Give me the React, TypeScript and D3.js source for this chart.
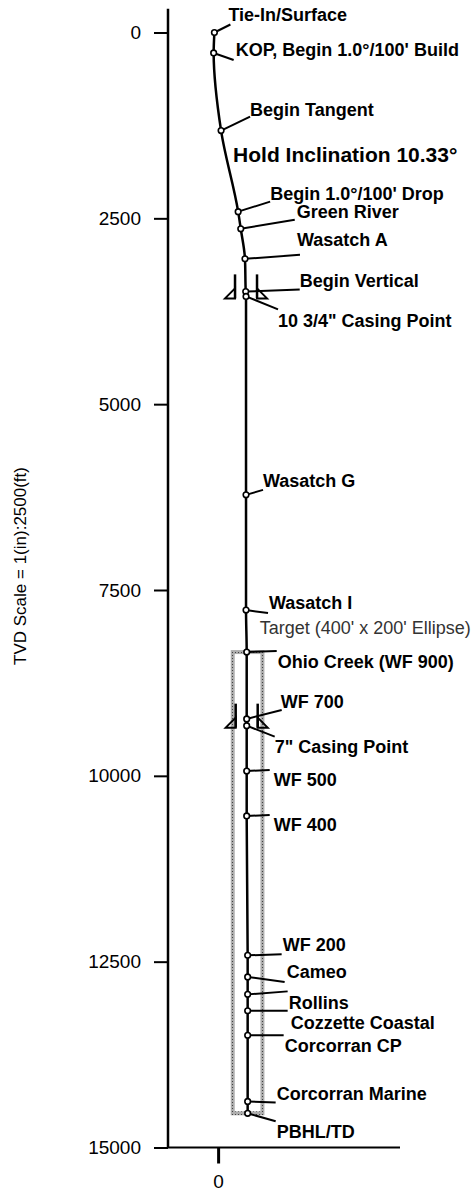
import React, { useEffect, useRef } from "react";
import * as d3 from "d3";

const WIDTH = 471;
const HEIGHT = 1191;
const FONT = "'Liberation Sans', Arial, Helvetica, sans-serif";

// well plan markers: TVD (ft) and vertical section (ft)
const markerNames = [
  "Tie-In/Surface",
  "KOP, Begin 1.0°/100' Build",
  "Begin Tangent",
  "Begin 1.0°/100' Drop",
  "Green River",
  "Wasatch A",
  "Begin Vertical",
  '10 3/4" Casing Point',
  "Wasatch G",
  "Wasatch I",
  "Ohio Creek (WF 900)",
  "WF 700",
  '7" Casing Point',
  "WF 500",
  "WF 400",
  "WF 200",
  "Cameo",
  "Rollins",
  "Cozzette Coastal",
  "Corcorran CP",
  "Corcorran Marine",
  "PBHL/TD",
];
const markerTVD = [
  0, 275, 1320, 2410, 2640, 3045, 3485, 3550, 6220, 7770, 8335, 9235, 9325,
  9935, 10540, 12415, 12705, 12940, 13160, 13490, 14380, 14540,
];
const markerVS = [
  -50, -60, 40, 270, 305, 362, 372, 376, 376, 376, 385, 385, 385, 385, 385,
  398, 398, 398, 398, 398, 398, 398,
];

// casing shoes
const casingTVD = [3550, 9325];
const casingVS = [376, 385];

// target box (400' wide)
const targetVS = [197, 597];
const targetTVD = [8335, 14540];

const yTicks = [0, 2500, 5000, 7500, 10000, 12500, 15000];
const xTicks = [0];

// label placement relative to the marker (px)
const labelDx = [14, 22, 29, 32, 56, 52, 54, 32, 17, 23, 31, 34, 28, 27, 27, 35, 39, 41, 43, 37, 29, 29];
const labelDy = [-18, -3, -21, -18, -17, -19, -11, 24, -14, -7, 10, -17, 21, 9, 9, -11, -5, 8, 12, 10, -8, 18];
const leaderDx = [16, 20, 29, 32, 54, 55, 54, 32, 17, 22, 30, 35, 28, 23, 23, 34, 37, 40, 40, 36, 28, 28];
const leaderDy = [-8, 7, -14, -10, -9, -4, -2, 13, -5, 3, -1, -9, 11, -1, -1, -1, 5, -3, 0, 0, 1, 8];

const App = () => {
  const ref = useRef<SVGSVGElement>(null);

  useEffect(() => {
    const svg = d3.select(ref.current);
    svg.selectAll("*").remove();

    const x = d3.scaleLinear().domain([-675, 2450]).range([168, 400]);
    const y = d3.scaleLinear().domain([0, 15000]).range([32.5, 1147.5]);

    const defs = svg.append("defs");
    const pat = defs
      .append("pattern")
      .attr("id", "stipple")
      .attr("width", 3)
      .attr("height", 3)
      .attr("patternUnits", "userSpaceOnUse");
    pat.append("rect").attr("width", 3).attr("height", 3).attr("fill", "#adadad");
    pat.append("rect").attr("x", 1).attr("y", 1).attr("width", 1).attr("height", 1).attr("fill", "#444");

    // target box
    svg
      .append("rect")
      .attr("x", x(targetVS[0]))
      .attr("y", y(targetTVD[0]))
      .attr("width", x(targetVS[1]) - x(targetVS[0]))
      .attr("height", y(targetTVD[1]) - y(targetTVD[0]))
      .attr("fill", "none")
      .attr("stroke", "url(#stipple)")
      .attr("stroke-width", 4);

    svg
      .append("text")
      .attr("x", x(targetVS[0]) + 27)
      .attr("y", y(targetTVD[0]) - 24)
      .attr("dy", "0.35em")
      .attr("font-family", FONT)
      .attr("font-size", 18)
      .attr("fill", "#333")
      .text("Target (400' x 200' Ellipse)");

    // axes
    svg
      .append("line")
      .attr("x1", 168)
      .attr("x2", 168)
      .attr("y1", y(-320))
      .attr("y2", y(15000))
      .attr("stroke", "#000")
      .attr("stroke-width", 2.5);

    const gy = svg
      .append("g")
      .attr("transform", "translate(168,0)")
      .call(d3.axisLeft(y).tickValues(yTicks).tickSize(14).tickPadding(13).tickFormat(d3.format("d")));
    gy.select(".domain").remove();
    gy.selectAll(".tick line").attr("stroke", "#000").attr("stroke-width", 2);
    gy.selectAll(".tick text")
      .attr("font-size", 19)
      .attr("font-family", FONT)
      .attr("fill", "#000");

    svg
      .append("line")
      .attr("x1", 168)
      .attr("x2", 400)
      .attr("y1", y(15000))
      .attr("y2", y(15000))
      .attr("stroke", "#000")
      .attr("stroke-width", 2);

    const gx = svg
      .append("g")
      .attr("transform", `translate(0,${y(15000)})`)
      .call(d3.axisBottom(x).tickValues(xTicks).tickSize(16).tickPadding(11).tickFormat(d3.format("d")));
    gx.select(".domain").remove();
    gx.selectAll(".tick line").attr("stroke", "#000").attr("stroke-width", 3);
    gx.selectAll(".tick text")
      .attr("font-size", 19)
      .attr("font-family", FONT)
      .attr("fill", "#000");

    svg
      .append("text")
      .attr("transform", "translate(20,566) rotate(-90)")
      .attr("text-anchor", "middle")
      .attr("dy", "0.35em")
      .attr("font-family", FONT)
      .attr("font-size", 17)
      .attr("fill", "#000")
      .text("TVD Scale = 1(in):2500(ft)");

    // well path
    const pts: [number, number][] = markerTVD.map((d, i) => [markerVS[i], d]);
    const line = d3
      .line<[number, number]>()
      .x((d) => x(d[0]))
      .y((d) => y(d[1]))
      .curve(d3.curveMonotoneY);
    svg
      .append("path")
      .attr("d", line(pts))
      .attr("fill", "none")
      .attr("stroke", "#000")
      .attr("stroke-width", 2.5);

    // casing shoes
    casingTVD.forEach((d, i) => {
      const cx = x(casingVS[i]);
      const cy = y(d);
      [-1, 1].forEach((s) => {
        const lx = cx + s * 11;
        svg
          .append("line")
          .attr("x1", lx)
          .attr("x2", lx)
          .attr("y1", cy - 22)
          .attr("y2", cy + 2)
          .attr("stroke", "#000")
          .attr("stroke-width", 2.5);
        svg
          .append("path")
          .attr("d", `M${lx},${cy + 2}L${lx + s * 10},${cy + 2}L${lx},${cy - 8}Z`)
          .attr("fill", "none")
          .attr("stroke", "#000")
          .attr("stroke-width", 2);
      });
    });

    // leaders, markers, labels
    const g = svg.append("g");
    markerNames.forEach((name, i) => {
      const px = x(markerVS[i]);
      const py = y(markerTVD[i]);
      g.append("line")
        .attr("x1", px)
        .attr("y1", py)
        .attr("x2", px + leaderDx[i])
        .attr("y2", py + leaderDy[i])
        .attr("stroke", "#000")
        .attr("stroke-width", 2);
      g.append("circle")
        .attr("cx", px)
        .attr("cy", py)
        .attr("r", 2.8)
        .attr("fill", "#fff")
        .attr("stroke", "#000")
        .attr("stroke-width", 1.6);
      g.append("text")
        .attr("x", px + labelDx[i])
        .attr("y", py + labelDy[i])
        .attr("dy", "0.35em")
        .attr("font-family", FONT)
        .attr("font-size", 18)
        .attr("font-weight", "bold")
        .attr("fill", "#000")
        .text(name);
    });

    // hold annotation next to Begin Tangent
    g.append("text")
      .attr("x", x(markerVS[2]) + 12)
      .attr("y", y(markerTVD[2]) + 24)
      .attr("dy", "0.35em")
      .attr("font-family", FONT)
      .attr("font-size", 21)
      .attr("font-weight", "bold")
      .attr("fill", "#000")
      .text("Hold Inclination 10.33°");
  }, []);

  return (
    <svg
      ref={ref}
      width={WIDTH}
      height={HEIGHT}
      style={{ position: "absolute", left: 0, top: 0, background: "#fff" }}
    />
  );
};

export default App;
